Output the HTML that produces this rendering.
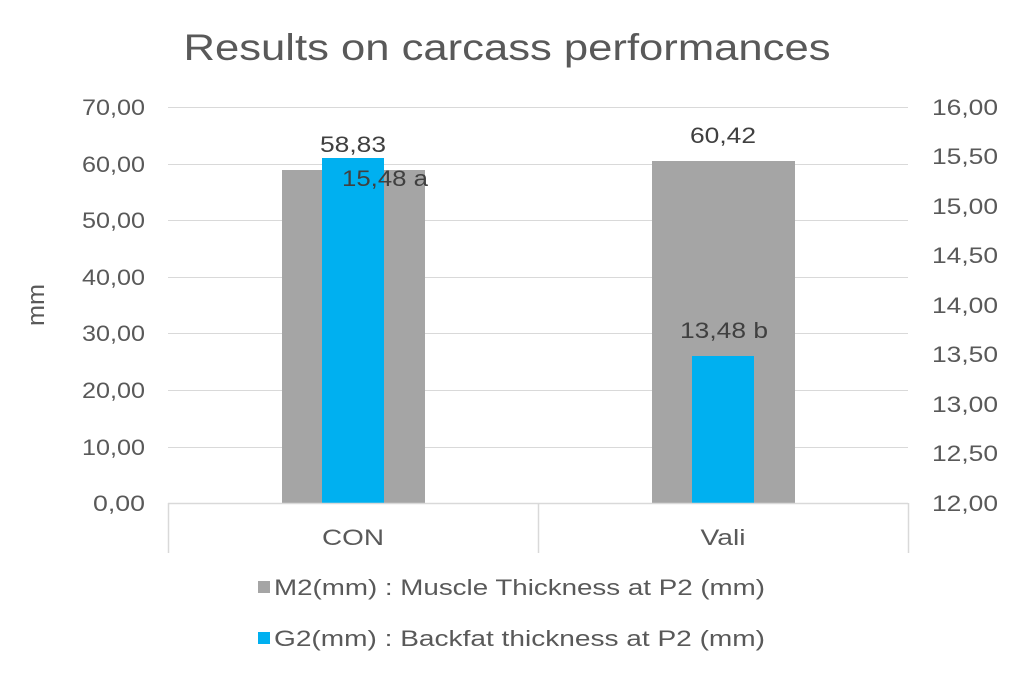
<!DOCTYPE html>
<html><head><meta charset="utf-8"><style>
body{margin:0;background:#fff}
svg text{font-family:"Liberation Sans",sans-serif;fill:#595959}
</style></head><body>
<svg width="1014" height="678" viewBox="0 0 1014 678" xmlns="http://www.w3.org/2000/svg">
<rect width="1014" height="678" fill="#fff"/>
<text x="507" y="60" font-size="37" text-anchor="middle" textLength="647" lengthAdjust="spacingAndGlyphs">Results on carcass performances</text>
<g stroke="#d9d9d9" stroke-width="1">
<line x1="168" x2="908" y1="107.5" y2="107.5"/>
<line x1="168" x2="908" y1="164.5" y2="164.5"/>
<line x1="168" x2="908" y1="220.5" y2="220.5"/>
<line x1="168" x2="908" y1="277.5" y2="277.5"/>
<line x1="168" x2="908" y1="333.5" y2="333.5"/>
<line x1="168" x2="908" y1="390.5" y2="390.5"/>
<line x1="168" x2="908" y1="447.5" y2="447.5"/>
</g>
<g font-size="22" text-anchor="end">
<text x="145" y="115" textLength="63" lengthAdjust="spacingAndGlyphs">70,00</text>
<text x="145" y="172" textLength="63" lengthAdjust="spacingAndGlyphs">60,00</text>
<text x="145" y="228" textLength="63" lengthAdjust="spacingAndGlyphs">50,00</text>
<text x="145" y="285" textLength="63" lengthAdjust="spacingAndGlyphs">40,00</text>
<text x="145" y="341" textLength="63" lengthAdjust="spacingAndGlyphs">30,00</text>
<text x="145" y="398" textLength="63" lengthAdjust="spacingAndGlyphs">20,00</text>
<text x="145" y="455" textLength="63" lengthAdjust="spacingAndGlyphs">10,00</text>
<text x="145" y="511" textLength="52" lengthAdjust="spacingAndGlyphs">0,00</text>
</g>
<g font-size="22" text-anchor="start">
<text x="932" y="115" textLength="66" lengthAdjust="spacingAndGlyphs">16,00</text>
<text x="932" y="164" textLength="66" lengthAdjust="spacingAndGlyphs">15,50</text>
<text x="932" y="214" textLength="66" lengthAdjust="spacingAndGlyphs">15,00</text>
<text x="932" y="263" textLength="66" lengthAdjust="spacingAndGlyphs">14,50</text>
<text x="932" y="313" textLength="66" lengthAdjust="spacingAndGlyphs">14,00</text>
<text x="932" y="362" textLength="66" lengthAdjust="spacingAndGlyphs">13,50</text>
<text x="932" y="412" textLength="66" lengthAdjust="spacingAndGlyphs">13,00</text>
<text x="932" y="461" textLength="66" lengthAdjust="spacingAndGlyphs">12,50</text>
<text x="932" y="511" textLength="66" lengthAdjust="spacingAndGlyphs">12,00</text>
</g>
<text transform="translate(44,305) rotate(-90)" font-size="24" text-anchor="middle" textLength="42" lengthAdjust="spacingAndGlyphs">mm</text>
<rect x="282" y="170" width="143" height="333" fill="#a5a5a5"/>
<rect x="652" y="161" width="143" height="342" fill="#a5a5a5"/>
<rect x="322" y="158" width="62" height="345" fill="#00b0f0"/>
<rect x="692" y="356" width="62" height="147" fill="#00b0f0"/>
<g stroke="#d9d9d9" stroke-width="1.5">
<line x1="168" x2="908" y1="503.5" y2="503.5"/>
<line x1="168.5" x2="168.5" y1="503" y2="553"/>
<line x1="538.5" x2="538.5" y1="503" y2="553"/>
<line x1="908.5" x2="908.5" y1="503" y2="553"/>
</g>
<g font-size="22" text-anchor="middle">
<text x="353" y="152" textLength="66" lengthAdjust="spacingAndGlyphs" style="fill:#404040">58,83</text>
<text x="723" y="143" textLength="66" lengthAdjust="spacingAndGlyphs" style="fill:#404040">60,42</text>
<text x="385" y="186" textLength="86" lengthAdjust="spacingAndGlyphs" style="fill:#404040">15,48 a</text>
<text x="724" y="338" textLength="88" lengthAdjust="spacingAndGlyphs" style="fill:#404040">13,48 b</text>
<text x="353" y="545" textLength="62" lengthAdjust="spacingAndGlyphs">CON</text>
<text x="723" y="545" textLength="45" lengthAdjust="spacingAndGlyphs">Vali</text>
</g>
<rect x="258" y="581" width="12" height="12" fill="#a5a5a5"/>
<text x="274" y="595" font-size="22" textLength="491" lengthAdjust="spacingAndGlyphs">M2(mm) : Muscle Thickness at P2 (mm)</text>
<rect x="258" y="632" width="12" height="12" fill="#00b0f0"/>
<text x="274" y="646" font-size="22" textLength="491" lengthAdjust="spacingAndGlyphs">G2(mm) : Backfat thickness at P2 (mm)</text>
</svg>
</body></html>
